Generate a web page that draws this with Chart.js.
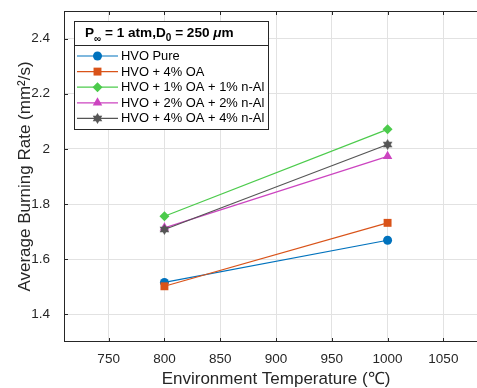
<!DOCTYPE html>
<html>
<head>
<meta charset="utf-8">
<script src="https://cdn.jsdelivr.net/npm/chart.js@4/dist/chart.umd.min.js"></script>
<style>html,body{margin:0;background:#fff;overflow:hidden}canvas{display:block}</style>
</head>
<body>
<!-- the original figure is cut off on the right, so the canvas is a bit wider than the window -->
<canvas id="burnChart" width="488" height="388"></canvas>
<script>
// data
const temps=[800,1000];
const seriesNames=["HVO Pure","HVO + 4% OA","HVO + 1% OA + 1% n-Al","HVO + 2% OA + 2% n-Al","HVO + 4% OA + 4% n-Al"];
const hvoPure=[1.516,1.669];
const hvoOA4=[1.502,1.732];
const hvoOA1Al1=[1.756,2.071];
const hvoOA2Al2=[1.714,1.973];
const hvoOA4Al4=[1.708,2.016];
const xTicks=[750,800,850,900,950,1000,1050];
const yTicks=[1.4,1.6,1.8,2,2.2,2.4];

const FONT="'Liberation Sans', Arial, Helvetica, sans-serif";
const INK="#262626";
const colors=["#0072BD","#D95319","#4CCB4C","#CC44C0","#555555"];
const markers=["circle","rect","rectRot","triangle","star"];
const radii=[4.5,5.6,5,5.5,5.5];

// filled six point star (hexagram), like the matlab marker
function hexagram(color,r){
  const c=document.createElement("canvas");
  const s=Math.ceil(r*2)+2;
  c.width=s;c.height=s;
  const g=c.getContext("2d");
  g.fillStyle=color;
  g.beginPath();
  for(let i=0;i<12;i++){
    const a=-Math.PI/2+i*Math.PI/6;
    const rr=i%2===0?r:r/Math.sqrt(3);
    g.lineTo(s/2+rr*Math.cos(a),s/2+rr*Math.sin(a));
  }
  g.closePath();g.fill();
  return c;
}
const starImg=hexagram(colors[4],5.5);

const allSeries=[hvoPure,hvoOA4,hvoOA1Al1,hvoOA2Al2,hvoOA4Al4];

const datasets=allSeries.map((vals,i)=>({
  label:seriesNames[i],
  data:temps.map((t,j)=>({x:t,y:vals[j]})),
  borderColor:colors[i],
  backgroundColor:colors[i],
  borderWidth:1.2,
  pointStyle:markers[i]==="star"?starImg:markers[i],
  pointRadius:radii[i],
  pointBorderWidth:0,
  pointBackgroundColor:colors[i],
  order:allSeries.length-i
}));

function drawMarker(ctx,i,x,y){
  const r=radii[i];
  ctx.fillStyle=colors[i];
  ctx.beginPath();
  if(markers[i]==="circle"){ctx.arc(x,y,r,0,Math.PI*2);}
  else if(markers[i]==="rect"){const s=r*Math.SQRT1_2;ctx.rect(x-s,y-s,2*s,2*s);}
  else if(markers[i]==="rectRot"){ctx.moveTo(x,y-r);ctx.lineTo(x+r,y);ctx.lineTo(x,y+r);ctx.lineTo(x-r,y);}
  else if(markers[i]==="triangle"){
    for(let k=0;k<3;k++){const a=-Math.PI/2+k*2*Math.PI/3;ctx.lineTo(x+r*Math.cos(a),y+r*Math.sin(a));}
  }
  else{ctx.drawImage(starImg,x-starImg.width/2,y-starImg.height/2);return;}
  ctx.closePath();ctx.fill();
}

const framePlugin={
  id:"frame",
  beforeDatasetsDraw(chart){
    const {ctx,chartArea:a,scales}=chart;
    ctx.save();
    ctx.strokeStyle=INK;ctx.lineWidth=1;
    ctx.strokeRect(a.left+0.5,a.top+0.5,a.right-a.left,a.bottom-a.top-1);
    ctx.beginPath();
    xTicks.forEach(v=>{
      const px=Math.round(scales.x.getPixelForValue(v))+0.5;
      ctx.moveTo(px,a.bottom);ctx.lineTo(px,a.bottom-4);
      ctx.moveTo(px,a.top);ctx.lineTo(px,a.top+4);
    });
    yTicks.forEach(v=>{
      const py=Math.round(scales.y.getPixelForValue(v))+0.5;
      ctx.moveTo(a.left,py);ctx.lineTo(a.left+4,py);
    });
    ctx.stroke();
    ctx.restore();
  }
};

const legendPlugin={
  id:"matlabLegend",
  afterDraw(chart){
    const ctx=chart.ctx;
    const bx=74.5,by=21.5,bw=194,bh=108,sep=45.5;
    ctx.save();
    ctx.fillStyle="#fff";ctx.fillRect(bx,by,bw,bh);
    ctx.strokeStyle=INK;ctx.lineWidth=1;
    ctx.strokeRect(bx,by,bw,bh);
    ctx.beginPath();ctx.moveTo(bx,sep);ctx.lineTo(bx+bw,sep);ctx.stroke();

    // title: P_inf = 1 atm,D_0 = 250 um
    ctx.fillStyle="#000";ctx.textBaseline="alphabetic";
    const base=36.5;
    let x=85;
    const big="bold 13.6px "+FONT, small="bold 10px "+FONT;
    const parts=[["P",big,0],["\u221E",small,5],[" = 1 atm,D",big,0],["0",small,4],[" = 250 ",big,0],["\u03BC","italic bold 13.6px "+FONT,0],["m",big,0]];
    parts.forEach(([t,f,dy])=>{ctx.font=f;ctx.fillText(t,x,base+dy);x+=ctx.measureText(t).width;});

    ctx.font="12.9px "+FONT;ctx.textBaseline="middle";
    seriesNames.forEach((name,i)=>{
      const y=56+i*15.6;
      ctx.strokeStyle=colors[i];ctx.lineWidth=1.2;
      ctx.beginPath();ctx.moveTo(77,y);ctx.lineTo(118,y);ctx.stroke();
      drawMarker(ctx,i,97.5,y);
      ctx.fillStyle="#000";
      ctx.fillText(name,121,y+0.5);
    });
    ctx.restore();
  }
};

new Chart(document.getElementById("burnChart"),{
  type:"line",
  data:{datasets:datasets},
  options:{
    responsive:false,
    animation:false,
    layout:{autoPadding:false,padding:{top:11,right:0,left:0,bottom:0}},
    plugins:{legend:{display:false},tooltip:{enabled:false}},
    scales:{
      x:{
        type:"linear",min:710,max:1090,
        afterFit(s){s.height=46;s.paddingLeft=0;s.paddingRight=0;},
        afterBuildTicks(s){s.ticks=xTicks.map(v=>({value:v}));},
        grid:{color:"#e2e2e2",drawTicks:false},
        border:{display:false},
        ticks:{padding:9,color:INK,font:{family:FONT,size:13.5},callback:v=>String(v)},
        title:{display:true,text:"Environment Temperature (\u2103)",color:INK,font:{family:FONT,size:17},padding:{top:0,bottom:-2}}
      },
      y:{
        type:"linear",min:1.3,max:2.5,
        afterFit(s){s.width=64;s.paddingTop=0;s.paddingBottom=0;},
        afterBuildTicks(s){s.ticks=yTicks.map(v=>({value:v}));},
        grid:{color:"#e2e2e2",drawTicks:false},
        border:{display:false},
        ticks:{padding:14,color:INK,font:{family:FONT,size:13.5},callback:v=>String(v)},
        title:{display:true,text:"Average Burning Rate (mm\u00B2/s)",color:INK,font:{family:FONT,size:17},padding:{top:15,bottom:0}}
      }
    }
  },
  plugins:[framePlugin,legendPlugin]
});
</script>
</body>
</html>
